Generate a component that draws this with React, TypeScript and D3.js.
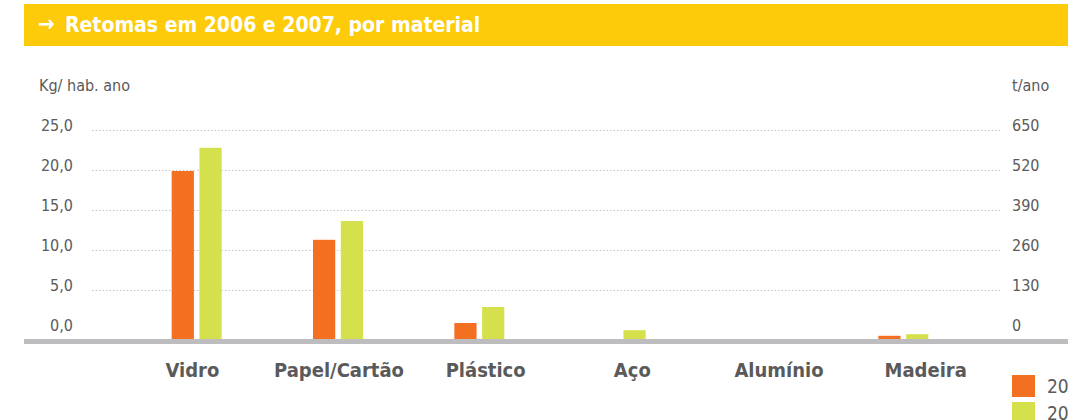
import React from "react";
import * as d3 from "d3";

const categories = ["Vidro", "Papel/Cartão", "Plástico", "Aço", "Alumínio", "Madeira"];
const seriesNames = ["2006", "2007"];
const values2006 = [21.0, 12.4, 2.0, 0, 0, 0.4];
const values2007 = [23.9, 14.75, 4.0, 1.1, 0, 0.6];
const leftTicks = [0, 5, 10, 15, 20, 25];
const rightTicks = [0, 130, 260, 390, 520, 650];
const titleText = "Retomas em 2006 e 2007, por material";
const leftUnit = "Kg/ hab. ano";
const rightUnit = "t/ano";

const W = 1068;
const H = 420;
const COLORS = ["#F37021", "#D4E04C"];
const FONT = "'DejaVu Sans Condensed', 'DejaVu Sans', sans-serif";
const TEXT = "#5a5a5a";

export default function App() {
  const baseline = 339;
  const yBar = d3.scaleLinear().domain([0, 25]).range([baseline, baseline - 200]);
  const labelOffset = 9;
  const yRight = d3.scaleLinear().domain([0, 650]).range([baseline - labelOffset, baseline - labelOffset - 200]);
  const xBars = d3.scaleBand<string>().domain(categories).range([126, 974]).paddingInner(0);
  const xLabels = d3.scaleBand<string>().domain(categories).range([119, 999]).paddingInner(0);
  const fmt = (v: number) => d3.format(".1f")(v).replace(".", ",");
  const series = [values2006, values2007];

  return (
    <svg
      width={W}
      height={H}
      style={{ position: "absolute", left: 0, top: 0, background: "#fff" }}
      fontFamily={FONT}
    >
      {/* title bar */}
      <rect x={24} y={4} width={W - 24} height={42} fill="#FDCB0A" />
      <text x={38} y={32} fill="#fff" fontSize={21} fontWeight="bold">
        <tspan fontSize={22} dy={-1}>→</tspan>
        <tspan x={65} dy={1}>{titleText}</tspan>
      </text>

      {/* units */}
      <text x={39} y={91} fill={TEXT} fontSize={16}>{leftUnit}</text>
      <text x={1012} y={91} fill={TEXT} fontSize={16}>{rightUnit}</text>

      {/* gridlines + left ticks */}
      {leftTicks.map((t) => {
        const y = yBar(t) - labelOffset;
        return (
          <g key={"l" + t}>
            {t > 0 && (
              <line x1={92} x2={1000} y1={y + 0.5} y2={y + 0.5} stroke="#c4c4c4" strokeWidth={1} strokeDasharray="1.5 2" />
            )}
            <text x={73} y={y + 1} textAnchor="end" fill={TEXT} fontSize={16}>{fmt(t)}</text>
          </g>
        );
      })}
      {rightTicks.map((t) => (
        <text key={"r" + t} x={1012} y={yRight(t) + 1} fill={TEXT} fontSize={16}>{t}</text>
      ))}

      {/* bars */}
      {categories.map((c, i) => {
        const cx = (xBars(c) as number) + xBars.bandwidth() / 2;
        const sub = d3.scaleBand<string>().domain(seriesNames).range([cx - 25, cx + 25]).paddingInner(0.2);
        return (
          <g key={c}>
            {seriesNames.map((s, si) => {
              const v = series[si][i];
              if (!v) return null;
              return (
                <rect
                  key={s}
                  x={sub(s)}
                  y={yBar(v)}
                  width={sub.bandwidth()}
                  height={baseline - yBar(v)}
                  fill={COLORS[si]}
                />
              );
            })}
          </g>
        );
      })}

      {/* baseline */}
      <rect x={24} y={baseline} width={W - 24} height={5} fill="#BDBDBF" />

      {/* category labels */}
      {categories.map((c) => (
        <text
          key={"c" + c}
          x={(xLabels(c) as number) + xLabels.bandwidth() / 2}
          y={377}
          textAnchor="middle"
          fill={TEXT}
          fontSize={20}
          fontWeight="bold"
        >
          {c}
        </text>
      ))}

      {/* legend */}
      {seriesNames.map((s, i) => (
        <g key={"lg" + s}>
          <rect x={1012} y={375 + i * 27} width={23} height={22} fill={COLORS[i]} />
          <text x={1047} y={393 + i * 27} fill={TEXT} fontSize={19}>{s}</text>
        </g>
      ))}
    </svg>
  );
}
